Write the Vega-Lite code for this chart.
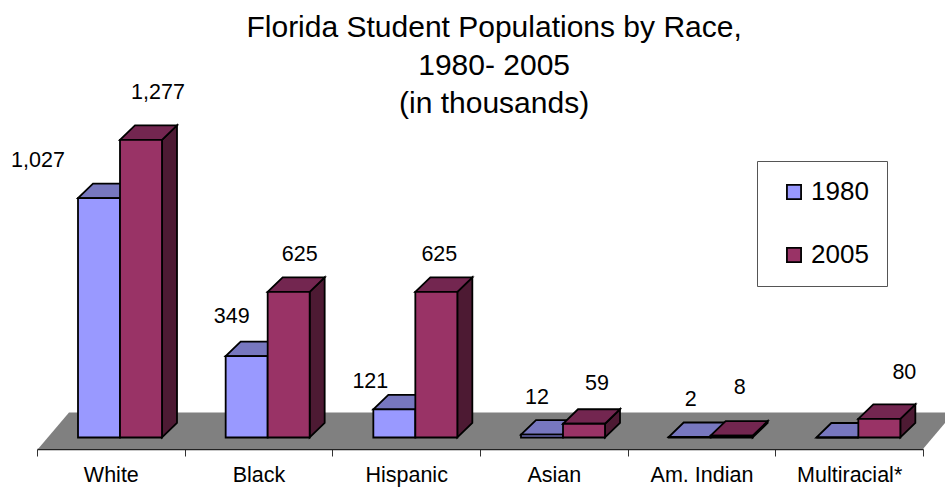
{
  "$schema": "https://vega.github.io/schema/vega-lite/v6.json",
  "autosize": "none",
  "width": 886,
  "height": 319,
  "padding": {"left": 37, "top": 130, "right": 22, "bottom": 38},
  "background": "white",
  "title": {
    "text": ["Florida Student Populations by Race,", "1980- 2005", "(in thousands)"],
    "font": "Liberation Sans",
    "fontSize": 30,
    "fontWeight": "normal",
    "color": "black",
    "lineHeight": 38,
    "anchor": "start",
    "align": "center",
    "dx": 483,
    "offset": -37
  },
  "config": {"view": {"stroke": null}},
  "data": {
    "values": [
      {"race": "White", "year": 1980, "students": 1027},
      {"race": "White", "year": 2005, "students": 1277},
      {"race": "Black", "year": 1980, "students": 349},
      {"race": "Black", "year": 2005, "students": 625},
      {"race": "Hispanic", "year": 1980, "students": 121},
      {"race": "Hispanic", "year": 2005, "students": 625},
      {"race": "Asian", "year": 1980, "students": 12},
      {"race": "Asian", "year": 2005, "students": 59},
      {"race": "Am. Indian", "year": 1980, "students": 2},
      {"race": "Am. Indian", "year": 2005, "students": 8},
      {"race": "Multiracial*", "year": 1980, "students": 0},
      {"race": "Multiracial*", "year": 2005, "students": 80}
    ]
  },
  "encoding": {
    "x": {
      "field": "race",
      "type": "nominal",
      "sort": ["White", "Black", "Hispanic", "Asian", "Am. Indian", "Multiracial*"],
      "scale": {"paddingInner": 0, "paddingOuter": 0},
      "axis": {
        "title": null,
        "labelAngle": 0,
        "labelFont": "Liberation Sans",
        "labelFontSize": 21.5,
        "labelColor": "black",
        "labelPadding": 8,
        "tickBand": "extent",
        "tickSize": 7,
        "tickColor": "#333333",
        "domainColor": "#222222",
        "domainWidth": 1.5,
        "grid": false
      }
    },
    "y": {
      "field": "students",
      "type": "quantitative",
      "scale": {"domain": [-49.4, 1319.6], "nice": false, "zero": false},
      "axis": null
    },
    "xOffset": {"field": "year", "type": "nominal", "scale": {"range": [41, 125]}}
  },
  "layer": [
    {
      "description": "Grey floor of the 3D plot, anchored at the first bar's base",
      "transform": [{"filter": "datum.race === 'White' && datum.year === 1980"}],
      "mark": {
        "type": "point",
        "filled": true,
        "size": 4,
        "opacity": 1,
        "fill": "#808080",
        "strokeWidth": 0,
        "shape": "M-61,11.5 L-30,-25 L855,-25 L824,11.5 Z"
      },
      "encoding": {"y": {"datum": 0}}
    },
    {
      "description": "Top faces of the 1980 bars",
      "transform": [{"filter": "datum.year === 1980"}],
      "mark": {
        "type": "point",
        "filled": true,
        "size": 4,
        "opacity": 1,
        "fill": "#7777BF",
        "stroke": "black",
        "strokeWidth": 1.8,
        "shape": "M-21,0 L21,0 L36,-14.5 L-6,-14.5 Z"
      }
    },
    {
      "description": "Right faces of the 2005 bars; the path height follows the value on the y scale (0.233 px per unit)",
      "transform": [
        {"filter": "datum.year === 2005"},
        {"calculate": "'M21,0 L21,' + (-datum.students * 0.233) + ' L36,' + (-datum.students * 0.233 - 14.5) + ' L36,-14.5 Z'", "as": "sideFace"}
      ],
      "mark": {
        "type": "point",
        "filled": true,
        "size": 4,
        "opacity": 1,
        "fill": "#4D1A33",
        "stroke": "black",
        "strokeWidth": 1.8
      },
      "encoding": {
        "y": {"datum": 0},
        "shape": {"field": "sideFace", "type": "nominal", "scale": null}
      }
    },
    {
      "description": "Top faces of the 2005 bars",
      "transform": [{"filter": "datum.year === 2005"}],
      "mark": {
        "type": "point",
        "filled": true,
        "size": 4,
        "opacity": 1,
        "fill": "#732650",
        "stroke": "black",
        "strokeWidth": 1.8,
        "shape": "M-21,0 L21,0 L36,-14.5 L-6,-14.5 Z"
      }
    },
    {
      "description": "Front faces",
      "mark": {"type": "bar", "stroke": "black", "strokeWidth": 1.8},
      "encoding": {
        "fill": {
          "field": "year",
          "type": "nominal",
          "scale": {"domain": [1980, 2005], "range": ["#9999FF", "#993366"]},
          "legend": {
            "title": null,
            "orient": "none",
            "legendX": 720,
            "legendY": 31,
            "strokeColor": "#555555",
            "padding": 18,
            "symbolType": "square",
            "symbolSize": 200,
            "symbolOffset": 6,
            "symbolStrokeColor": "black",
            "symbolStrokeWidth": 1.8,
            "symbolOpacity": 1,
            "labelFont": "Liberation Sans",
            "labelFontSize": 26,
            "labelColor": "black",
            "labelOffset": 4,
            "rowPadding": 37
          }
        }
      }
    },
    {
      "description": "Value labels, each set clear of its bar",
      "transform": [
        {"filter": "!(datum.race === 'Multiracial*' && datum.year === 1980)"},
        {"calculate": "{'White1980':-61,'White2005':17,'Black1980':-15,'Black2005':11,'Hispanic1980':-24,'Hispanic2005':3,'Asian1980':-5,'Asian2005':13,'Am. Indian1980':1,'Am. Indian2005':8,'Multiracial*2005':25}[datum.race + datum.year]", "as": "labelDx"},
        {"calculate": "{'White1980':-37,'White2005':-47,'Black1980':-39,'Black2005':-37,'Hispanic1980':-27,'Hispanic2005':-37,'Asian1980':-37,'Asian2005':-40,'Am. Indian1980':-37.5,'Am. Indian2005':-48,'Multiracial*2005':-46}[datum.race + datum.year]", "as": "labelDy"}
      ],
      "mark": {
        "type": "text",
        "font": "Liberation Sans",
        "fontSize": 21.5,
        "color": "black",
        "align": "center",
        "baseline": "middle",
        "dx": {"expr": "datum.labelDx"},
        "dy": {"expr": "datum.labelDy"}
      },
      "encoding": {
        "text": {"field": "students", "type": "quantitative", "format": ","}
      }
    }
  ]
}
